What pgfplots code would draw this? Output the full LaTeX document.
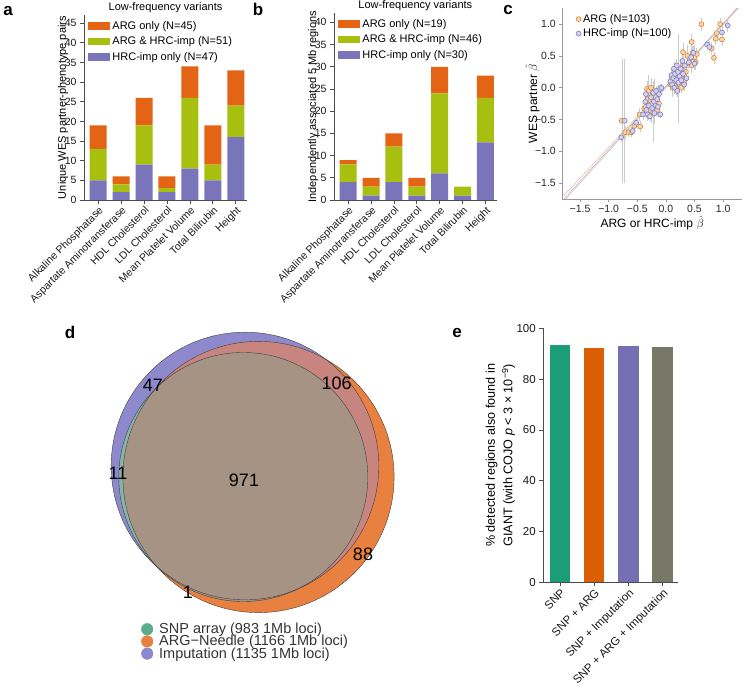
\documentclass[border=0pt]{standalone}
\usepackage{fontspec}
\setmainfont{Liberation Sans}
\usepackage{pgfplots}
\usepackage{pgfplotstable}
\pgfplotsset{compat=1.18}

\definecolor{argonly}{HTML}{E36414}
\definecolor{both}{HTML}{A7C00F}
\definecolor{hrconly}{HTML}{7A75BA}
\definecolor{cARG}{HTML}{E0892E}
\definecolor{cHRC}{HTML}{8480C4}
\definecolor{eSNP}{HTML}{1B9E77}
\definecolor{eARG}{HTML}{D95F02}
\definecolor{eIMP}{HTML}{7570B3}
\definecolor{eALL}{HTML}{787866}
\definecolor{vSNP}{HTML}{5AAA8C}
\definecolor{vARG}{HTML}{E8803F}
\definecolor{vIMP}{HTML}{8D89CC}
\definecolor{vPINK}{HTML}{C8847F}
\definecolor{vTEAL}{HTML}{86B4A6}
\definecolor{vBROWN}{HTML}{A69383}

\newcommand{\fs}[1]{\fontsize{#1}{#1}\selectfont}

% a: unique WES partner-phenotype pairs
\pgfplotstableread{
x hrc both arg
0 5 8 6
1 2 2 2
2 9 10 7
3 2 1 3
4 8 18 8
5 5 4 10
6 16 8 9
}\pairs

% b: independently associated 5 Mb regions
\pgfplotstableread{
x hrc both arg
0 4 4 1
1 1 2 2
2 4 8 3
3 1 2 2
4 6 18 6
5 1 2 0
6 13 10 5
}\regions

% c: effect sizes (x, y, x error, y error)
\pgfplotstableread{
x y ex ey
-0.77 -0.52 0.05 0.98
-0.71 -0.70 0.04 0.10
-0.65 -0.70 0.04 0.08
-0.60 -0.70 0.03 0.08
-0.55 -0.60 0.04 0.06
-0.46 -0.42 0.04 0.10
-0.45 -0.61 0.05 0.08
-0.38 -0.33 0.03 0.12
-0.35 -0.30 0.03 0.15
-0.33 -0.02 0.04 0.12
-0.32 -0.18 0.04 0.20
-0.30 -0.05 0.03 0.25
-0.30 -0.40 0.04 0.10
-0.28 -0.35 0.03 0.12
-0.27 -0.20 0.03 0.10
-0.26 0.00 0.03 0.12
-0.25 -0.25 0.04 0.30
-0.24 -0.12 0.03 0.10
-0.22 -0.38 0.03 0.48
-0.20 -0.30 0.03 0.10
-0.18 -0.15 0.03 0.08
-0.15 -0.35 0.03 0.10
-0.14 -0.05 0.03 0.10
-0.12 -0.25 0.03 0.08
0.08 0.05 0.03 0.08
0.10 0.15 0.03 0.10
0.12 0.00 0.03 0.15
0.14 0.22 0.03 0.10
0.15 0.10 0.03 0.08
0.18 0.30 0.03 0.12
0.18 -0.02 0.03 0.10
0.20 0.18 0.03 0.10
0.22 0.15 0.04 0.70
0.24 0.05 0.03 0.10
0.25 0.28 0.03 0.10
0.27 0.00 0.03 0.08
0.28 0.20 0.03 0.10
0.30 0.56 0.04 0.15
0.30 0.35 0.03 0.10
0.33 0.12 0.03 0.10
0.35 0.25 0.03 0.10
0.38 0.50 0.04 0.18
0.42 0.45 0.03 0.10
0.45 0.72 0.04 0.12
0.45 0.35 0.04 0.12
0.47 0.55 0.04 0.10
0.50 0.48 0.04 0.20
0.52 0.40 0.04 0.12
0.54 0.53 0.04 0.10
0.62 1.00 0.04 0.10
0.80 0.62 0.04 0.10
0.84 0.47 0.04 0.10
0.87 0.77 0.05 0.10
0.89 0.86 0.04 0.10
0.95 1.00 0.04 0.10
0.98 0.76 0.04 0.10
}\argtab

\pgfplotstableread{
x y ex ey
-0.72 -0.52 0.04 0.98
-0.78 -0.78 0.04 0.08
-0.58 -0.68 0.04 0.06
-0.52 -0.55 0.04 0.08
-0.40 -0.42 0.03 0.08
-0.36 -0.22 0.03 0.10
-0.35 -0.10 0.03 0.10
-0.34 -0.35 0.03 0.12
-0.32 -0.42 0.03 0.10
-0.30 -0.28 0.03 0.15
-0.28 -0.45 0.03 0.08
-0.26 -0.15 0.03 0.30
-0.24 -0.32 0.03 0.10
-0.22 -0.08 0.03 0.10
-0.21 -0.22 0.03 0.35
-0.20 -0.40 0.03 0.08
-0.18 -0.28 0.03 0.10
-0.17 -0.05 0.03 0.08
-0.15 -0.18 0.03 0.10
-0.14 -0.30 0.03 0.10
-0.12 -0.10 0.03 0.08
-0.10 -0.02 0.03 0.08
-0.10 -0.42 0.03 0.06
-0.08 0.00 0.03 0.06
0.08 0.10 0.03 0.10
0.10 0.20 0.03 0.08
0.11 0.05 0.03 0.10
0.13 0.15 0.03 0.12
0.14 0.30 0.03 0.10
0.15 0.00 0.03 0.10
0.16 0.22 0.03 0.10
0.18 0.12 0.03 0.15
0.19 0.35 0.03 0.10
0.20 -0.05 0.03 0.10
0.21 0.25 0.03 0.12
0.22 0.08 0.03 0.10
0.24 0.18 0.03 0.10
0.26 0.30 0.03 0.10
0.27 0.12 0.03 0.10
0.29 0.42 0.03 0.10
0.30 0.22 0.03 0.12
0.32 0.05 0.03 0.10
0.33 0.35 0.03 0.10
0.36 0.15 0.03 0.10
0.40 0.40 0.04 0.10
0.44 0.48 0.04 0.12
0.48 0.55 0.04 0.10
0.50 0.38 0.04 0.10
0.72 0.68 0.04 0.06
0.76 0.64 0.04 0.10
0.98 0.87 0.04 0.10
1.08 0.98 0.04 0.10
}\hrctab

\pgfplotsset{
  /pgf/number format/assume math mode=true,
  base/.style={
    scale only axis, anchor=south west,
    axis x line*=bottom, axis y line*=left,
    tick align=outside, major tick length=4pt,
    axis line style={black!70, line width=0.7pt},
    tick style={black!70, line width=0.7pt},
    ticklabel style={font=\fs{10.5}, text=black!90},
    label style={font=\fs{11}},
  },
  lowfreq/.style={
    base, width=163pt,
    ybar stacked, bar width=17pt,
    xmin=-0.62, xmax=6.49, ymin=0,
    xtick={0,...,6},
    xticklabels={Alkaline Phosphatase, Aspartate Aminotransferase, HDL Cholesterol, LDL Cholesterol, Mean Platelet Volume, Total Bilirubin, Height},
    xticklabel style={rotate=45, anchor=north east, inner sep=1pt},
    title={Low-frequency variants},
    title style={font=\fs{11}, at={(axis description cs:0.5,1)}, anchor=center, yshift=2pt},
    ylabel style={at={(axis description cs:-0.128,0.5)}, anchor=center},
    reverse legend,
    legend cell align=left,
    legend style={at={(axis description cs:0.02,0.985)}, anchor=north west,
      draw=none, fill=none, font=\fs{11}, row sep=2pt, inner sep=1pt},
    legend image code/.code={\fill[##1] (0pt,-3.8pt) rectangle (22pt,3.8pt);},
  },
  cleg/.style={
    legend image code/.code={\draw[mark repeat=2,mark phase=2,##1] plot coordinates {(0pt,0pt)(6pt,0pt)(12pt,0pt)};},
  },
  dleg/.style={
    legend image code/.code={\fill[##1] (3pt,0pt) circle[radius=5.8pt];},
  },
}

\begin{document}
\begin{tikzpicture}
\path[use as bounding box] (0pt,0pt) rectangle (744pt,695pt);

% ---------- a ----------
\begin{axis}[lowfreq, height=184.7pt, at={(84pt,495pt)}, ymax=47,
  ytick={0,5,...,45}, ylabel={Unique WES partner-phenotype pairs}]
\addplot[fill=hrconly, draw=none] table[x=x,y=hrc] {\pairs};
\addplot[fill=both, draw=none] table[x=x,y=both] {\pairs};
\addplot[fill=argonly, draw=none] table[x=x,y=arg] {\pairs};
\legend{HRC-imp only (N=47), ARG \& HRC-imp (N=51), ARG only (N=45)}
\end{axis}

% ---------- b ----------
\begin{axis}[lowfreq, width=162.7pt, height=186.5pt, at={(334pt,495pt)}, ymax=42,
  ytick={0,5,...,40}, ylabel={Independently associated 5 Mb regions}]
\addplot[fill=hrconly, draw=none] table[x=x,y=hrc] {\regions};
\addplot[fill=both, draw=none] table[x=x,y=both] {\regions};
\addplot[fill=argonly, draw=none] table[x=x,y=arg] {\regions};
\legend{HRC-imp only (N=30), ARG \& HRC-imp (N=46), ARG only (N=19)}
\end{axis}

% ---------- c ----------
\begin{axis}[base, cleg, width=179.7pt, height=190.7pt, at={(562.3pt,496pt)},
  xmin=-1.81, xmax=1.33, ymin=-1.75, ymax=1.25,
  axis line style={black!40, line width=0.7pt},
  tick style={black!40, line width=0.7pt}, major tick length=3pt,
  ticklabel style={font=\fs{10.5}, text=black!85},
  xtick={-1.5,-1,-0.5,0,0.5,1}, xticklabels={−1.5,−1.0,−0.5,0.0,0.5,1.0},
  ytick={-1.5,-1,-0.5,0,0.5,1}, yticklabels={−1.5,−1.0,−0.5,0.0,0.5,1.0},
  xlabel={ARG or HRC-imp $\hat{\beta}$}, ylabel={WES partner $\hat{\beta}$},
  label style={font=\fs{12}},
  xlabel style={at={(axis description cs:0.5,-0.125)}, anchor=center},
  ylabel style={at={(axis description cs:-0.165,0.5)}, anchor=center},
  legend cell align=left,
  legend style={at={(axis description cs:0.07,0.985)}, anchor=north west,
    draw=none, fill=none, font=\fs{11}, row sep=1pt, inner sep=1pt},
  clip=true]
\addplot[black!22, line width=0.6pt, forget plot] coordinates {(-1.81,-1.81) (1.33,1.33)};
\addplot[cARG!70, line width=0.4pt, forget plot] coordinates {(-1.81,-1.72) (1.33,1.31)};
\addplot[cHRC!70, line width=0.4pt, forget plot] coordinates {(-1.81,-1.78) (1.33,1.34)};
\addplot[only marks, mark=none, forget plot,
  error bars/.cd, x dir=both, x explicit, y dir=both, y explicit,
  error bar style={black!20, line width=0.6pt}, error mark=none]
  table[x=x, y=y, x error=ex, y error=ey] {\argtab};
\addplot[only marks, mark=none, forget plot,
  error bars/.cd, x dir=both, x explicit, y dir=both, y explicit,
  error bar style={black!20, line width=0.6pt}, error mark=none]
  table[x=x, y=y, x error=ex, y error=ey] {\hrctab};
\addplot[only marks, mark=*, mark size=2.5pt,
  mark options={draw=cARG, fill=cARG!35, line width=0.6pt}]
  table[x=x, y=y] {\argtab};
\addplot[only marks, mark=*, mark size=2.5pt,
  mark options={draw=cHRC, fill=cHRC!35, line width=0.6pt}]
  table[x=x, y=y] {\hrctab};
\legend{ARG (N=103), HRC-imp (N=100)}
\end{axis}

% ---------- d ----------
\begin{axis}[dleg, scale only axis, anchor=south west, width=300pt, height=300pt,
  at={(100pt,25pt)}, xmin=100, xmax=400, ymin=25, ymax=325, hide axis, clip=false,
  legend cell align=left,
  legend style={at={(axis cs:141,73)}, anchor=north west, draw=none, fill=none,
    font=\fs{14.5}, text=black!80, row sep=-1.8pt, inner sep=0pt,
    nodes={inner sep=1pt},
    /tikz/every odd column/.append style={column sep=5pt}}]
\fill[vIMP] (axis cs:245,229) circle[radius=133.8];
\fill[vARG] (axis cs:258.5,218) circle[radius=135.6];
\begin{scope}
\clip (axis cs:245,229) circle[radius=133.8];
\fill[vPINK] (axis cs:258.5,218) circle[radius=135.6];
\end{scope}
\fill[vTEAL] (axis cs:243.3,218) circle[radius=124.5];
\begin{scope}
\clip (axis cs:258.5,218) circle[radius=135.6];
\fill[vBROWN] (axis cs:243.3,218) circle[radius=124.5];
\end{scope}
\draw[black!75, line width=0.4pt] (axis cs:245,229) circle[radius=133.8];
\draw[black!75, line width=0.4pt] (axis cs:258.5,218) circle[radius=135.6];
\draw[black!75, line width=0.4pt] (axis cs:243.3,218) circle[radius=124.5];
\node[font=\fs{18}] at (axis cs:153,310) {47};
\node[font=\fs{18}] at (axis cs:336.7,312) {106};
\node[font=\fs{18}] at (axis cs:118,222) {11};
\node[font=\fs{18}] at (axis cs:244,215) {971};
\node[font=\fs{18}] at (axis cs:363,141) {88};
\node[font=\fs{18}] at (axis cs:188,103) {1};
\addlegendimage{vSNP}
\addlegendentry{SNP array (983 1Mb loci)}
\addlegendimage{vARG}
\addlegendentry{ARG−Needle (1166 1Mb loci)}
\addlegendimage{vIMP}
\addlegendentry{Imputation (1135 1Mb loci)}
\end{axis}

% ---------- e ----------
\begin{axis}[base, width=135pt, height=254pt, at={(543.3pt,112.7pt)},
  ybar, bar width=20.3pt, bar shift=0pt,
  xmin=-0.49, xmax=3.46, ymin=0, ymax=100, ytick={0,20,...,100},
  ticklabel style={font=\fs{11.5}},
  xtick={0,1,2,3},
  xticklabels={SNP, SNP + ARG, SNP + Imputation, SNP + ARG + Imputation},
  xticklabel style={rotate=45, anchor=north east, inner sep=1pt},
  ylabel={\% detected regions also found in\\[3.5pt]GIANT (with COJO \textit{p} < 3 × 10\textsuperscript{−9})},
  ylabel style={align=center, font=\fs{12.6}, at={(axis description cs:-0.318,0.5)}, anchor=center}]
\addplot[fill=eSNP, draw=none] coordinates {(0,93.4)};
\addplot[fill=eARG, draw=none] coordinates {(1,92.1)};
\addplot[fill=eIMP, draw=none] coordinates {(2,93.0)};
\addplot[fill=eALL, draw=none] coordinates {(3,92.5)};
\end{axis}

% panel letters
\node[font=\bfseries\fs{17}] at (8pt,684pt) {a};
\node[font=\bfseries\fs{17}] at (258pt,686pt) {b};
\node[font=\bfseries\fs{17}] at (508pt,685pt) {c};
\node[font=\bfseries\fs{17}] at (70pt,363pt) {d};
\node[font=\bfseries\fs{17}] at (457pt,362pt) {e};
\end{tikzpicture}
\end{document}
